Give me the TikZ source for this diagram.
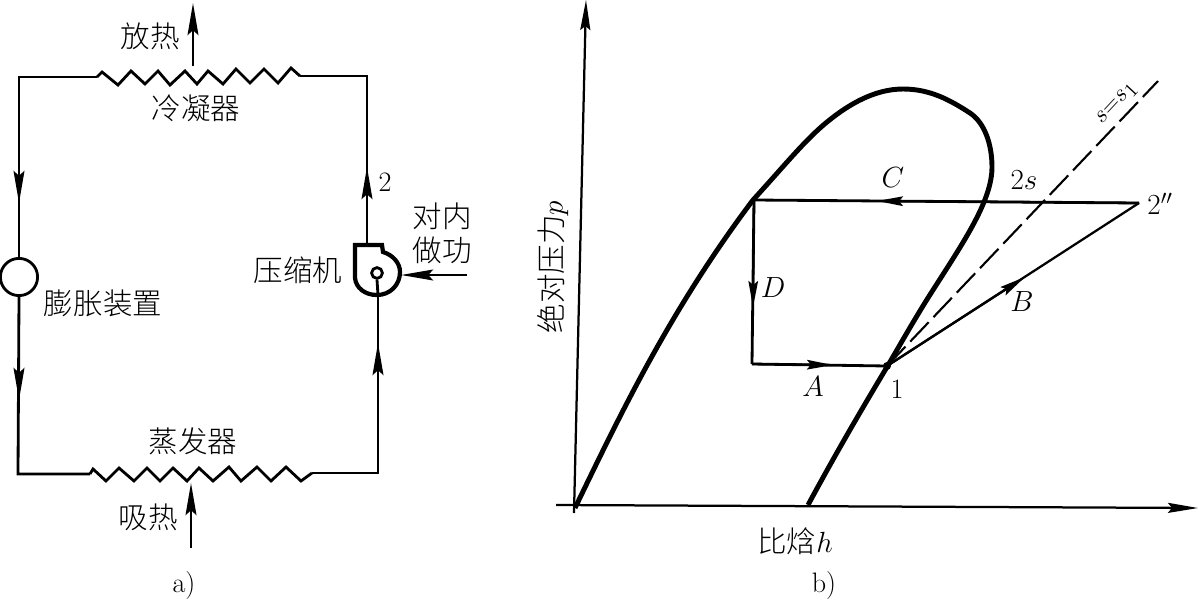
\documentclass[tikz,border=0pt]{standalone}
\usepackage{fontspec}
\newfontfamily\cjk{Noto Sans CJK SC Light}
\usetikzlibrary{arrows.meta}

\begin{document}
\begin{tikzpicture}[x=0.025cm, y=-0.025cm, line join=miter,
  pipe/.style = {draw, line width=2pt},
  flow/.style = {pipe, -{Stealth[length=0.8cm, width=0.27cm, inset=0.12cm]}},
  thin line/.style = {draw, line width=1.6pt},
  thin arrow/.style = {thin line, -{Stealth[length=0.75cm, width=0.25cm, inset=0.1cm]}},
  short arrow/.style = {thin line, -{Stealth[length=0.65cm, width=0.24cm, inset=0.1cm]}},
  curve/.style = {draw, line width=3.5pt},
  cn/.style = {inner sep=0pt, font=\cjk\fontsize{21}{24}\selectfont},
  lb/.style = {inner sep=0pt, font=\fontsize{20}{24}\selectfont}]
  \useasboundingbox (0,0) rectangle (1199,600);

  % a)
  \node[draw, circle, line width=2pt, minimum size=0.93cm, inner sep=0pt] (exp) at (19,277) {};
  \coordinate (tl) at (19,77);
  \coordinate (tr) at (367,76);
  \coordinate (bl) at (18,474);
  \coordinate (br) at (378,473);
  \coordinate (cond1) at (97,77);
  \coordinate (cond2) at (300,76);
  \coordinate (evap1) at (90,474);
  \coordinate (evap2) at (312,473);
  \coordinate (m1) at (19,203);
  \coordinate (m2) at (19,400);
  \coordinate (m3) at (367,167);
  \coordinate (m4) at (378,343);
  \coordinate (comptop) at (367,245);
  \coordinate (compbot) at (378,295);
  \node[draw, circle, line width=2pt, minimum size=0.27cm, inner sep=0pt] (shaft) at (377,273) {};

  \draw[pipe] (cond1) -- (tl) -- (exp.north);
  \draw[flow] (tl) -- (m1);
  \draw[pipe] (exp.south) -- (bl) -- (evap1);
  \draw[flow] (exp.south) -- (m2);
  \draw[pipe] (evap2) -- (br) -- (compbot);
  \draw[flow] (br) -- (m4);
  \draw[pipe] (comptop) -- (tr) -- (cond2);
  \draw[flow] (comptop) -- (m3);
  \draw[pipe] (shaft.south) -- (compbot);

  % condenser
  \draw[pipe] (cond1) -- (102,72) -- (118,85) -- (131,71) -- (145,84) -- (158,71) -- (170,85) -- (185,71) -- (197,84) -- (208,71) -- (223,84) -- (236,69) -- (250,83) -- (264,69) -- (278,83) -- (291,68) -- (cond2);
  % evaporator
  \draw[pipe] (evap1) -- (93,469) -- (106,481) -- (119,468) -- (134,481) -- (147,468) -- (160,481) -- (173,468) -- (187,481) -- (199,468) -- (213,481) -- (229,467) -- (241,481) -- (257,467) -- (271,481) -- (286,467) -- (301,481) -- (evap2);

  % compressor
  \draw[line width=3pt] (355,245) -- (382,245) -- (383,252) .. controls (393,255) and (400,263) .. (400,272) .. controls (400,285) and (390,295) .. (377,295) .. controls (365,295) and (356,288) .. (355,278) -- cycle;

  \coordinate (out1) at (193,66);
  \coordinate (out2) at (193,3);
  \coordinate (in1) at (191,548);
  \coordinate (in2) at (191,483);
  \coordinate (work1) at (467,275);
  \coordinate (work2) at (401,275);
  \draw[flow] (out1) -- (out2);
  \draw[flow] (in1) -- (in2);
  \draw[flow] (work1) -- (work2);

  \node[cn] (fang) at (150,36) {放热};
  \node[cn] (leng) at (196,108) {冷凝器};
  \node[cn] (peng) at (103,303) {膨胀装置};
  \node[cn] (ya) at (298,270) {压缩机};
  \node[cn] (dui) at (442,216) {对内};
  \node[cn] (zuo) at (442,250) {做功};
  \node[cn] (zheng) at (193,441) {蒸发器};
  \node[cn] (xi) at (148,517) {吸热};
  \node[lb] (two) at (385,182) {2};
  \node[lb] (capa) at (184,585) {a)};
  \node[lb] (capb) at (824,585) {b)};

  % b)
  \coordinate (o) at (574,513);
  \coordinate (yaxis) at (586,0);
  \coordinate (xaxis0) at (556,505);
  \coordinate (xaxis) at (1198,508);
  \coordinate (pa) at (754,200);
  \coordinate (pd) at (752,364);
  \coordinate (p1) at (887,366);
  \coordinate (p2) at (1139,203);
  \coordinate (mC) at (877,201);
  \coordinate (mD) at (753,307);
  \coordinate (mA) at (833,365);
  \coordinate (mB) at (1025,277);
  \coordinate (send) at (1158,81);

  \draw[thin arrow] (o) -- (yaxis);
  \draw[thin arrow] (xaxis0) -- (xaxis);
  \draw[curve] (575,508) .. controls (620,415) and (670,310) .. (753,200) .. controls (785,165) and (805,140) .. (827,122) .. controls (849,104) and (875,89) .. (903,89) .. controls (930,89) and (950,100) .. (970,113) .. controls (985,123) and (992,145) .. (992,167) .. controls (992,200) and (965,240) .. (933,290) .. controls (915,318) and (900,345) .. (887,367) .. controls (860,412) and (835,455) .. (808,505);

  \draw[pipe] (p2) -- (pa);
  \draw[short arrow] (p2) -- (mC);
  \draw[pipe] (pa) -- (pd);
  \draw[short arrow] (pa) -- (mD);
  \draw[pipe] (pd) -- (p1);
  \draw[short arrow] (pd) -- (mA);
  \draw[thin line] (p1) -- (p2);
  \draw[short arrow] (p1) -- (mB);
  \draw[line width=1.5pt, dash pattern=on 19pt off 5pt] (p1) -- (send);
  \fill (p1) circle (4);

  \node[lb] (lc) at (893,178) {$C$};
  \node[lb] (l2s) at (1024,180) {$2s$};
  \node[lb] (l2) at (1160,204) {$2''$};
  \node[lb] (ld) at (773,288) {$D$};
  \node[lb] (lb) at (1022,302) {$B$};
  \node[lb] (la) at (813,387) {$A$};
  \node[lb] (l1) at (897,389) {1};
  \node[lb, rotate=47, font=\fontsize{19}{22}\selectfont] (ls) at (1117,104) {$s{=}s_1$};
  \node[cn, rotate=90] (yl) at (553,267) {绝对压力$p$};
  \node[cn] (xl) at (795,541) {比焓$h$};
\end{tikzpicture}
\end{document}
